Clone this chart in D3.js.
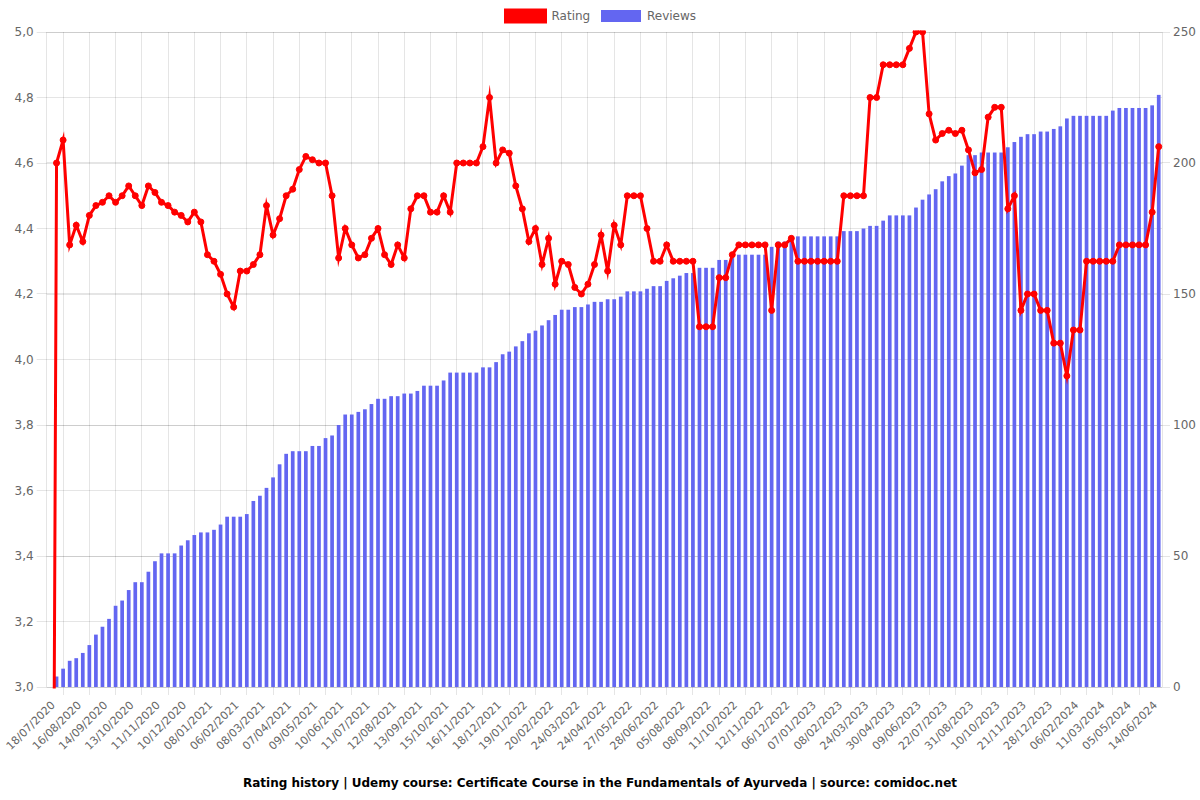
<!DOCTYPE html>
<html><head><meta charset="utf-8">
<script src="https://cdn.jsdelivr.net/npm/d3@7"></script>
<style>body{margin:0;background:#fff}svg{display:block}text{font-family:"DejaVu Sans",sans-serif}</style>
</head><body>
<svg id="chart" width="1200" height="800"></svg>
<script>
const tickLabels = ["18/07/2020","16/08/2020","14/09/2020","13/10/2020","11/11/2020","10/12/2020","08/01/2021","06/02/2021","08/03/2021","07/04/2021","09/05/2021","10/06/2021","11/07/2021","12/08/2021","13/09/2021","15/10/2021","16/11/2021","18/12/2021","19/01/2022","20/02/2022","24/03/2022","24/04/2022","27/05/2022","28/06/2022","05/08/2022","08/09/2022","11/10/2022","12/11/2022","06/12/2022","07/01/2023","08/02/2023","24/03/2023","30/04/2023","09/06/2023","22/07/2023","31/08/2023","10/10/2023","21/11/2023","28/12/2023","06/02/2024","11/03/2024","05/05/2024","14/06/2024"];
const labelEvery = 4;
const ratings = [0,4.6,4.67,4.35,4.41,4.36,4.44,4.47,4.48,4.5,
4.48,4.5,4.53,4.5,4.47,4.53,4.51,4.48,4.47,4.45,
4.44,4.42,4.45,4.42,4.32,4.3,4.26,4.2,4.16,4.27,
4.27,4.29,4.32,4.47,4.38,4.43,4.5,4.52,4.58,4.62,
4.61,4.6,4.6,4.5,4.31,4.4,4.35,4.31,4.32,4.37,
4.4,4.32,4.29,4.35,4.31,4.46,4.5,4.5,4.45,4.45,
4.5,4.45,4.6,4.6,4.6,4.6,4.65,4.8,4.6,4.64,
4.63,4.53,4.46,4.36,4.4,4.29,4.37,4.23,4.3,4.29,
4.22,4.2,4.23,4.29,4.38,4.27,4.41,4.35,4.5,4.5,
4.5,4.4,4.3,4.3,4.35,4.3,4.3,4.3,4.3,4.1,
4.1,4.1,4.25,4.25,4.32,4.35,4.35,4.35,4.35,4.35,
4.15,4.35,4.35,4.37,4.3,4.3,4.3,4.3,4.3,4.3,
4.3,4.5,4.5,4.5,4.5,4.8,4.8,4.9,4.9,4.9,
4.9,4.95,5.0,5.0,4.75,4.67,4.69,4.7,4.69,4.7,
4.64,4.57,4.58,4.74,4.77,4.77,4.46,4.5,4.15,4.2,
4.2,4.15,4.15,4.05,4.05,3.95,4.09,4.09,4.3,4.3,
4.3,4.3,4.3,4.35,4.35,4.35,4.35,4.35,4.45,4.65];
const reviews = [0,4,7,10,11,13,16,20,23,26,
31,33,37,40,40,44,48,51,51,51,
54,56,58,59,59,60,62,65,65,65,
66,71,73,76,80,85,89,90,90,90,
92,92,95,96,100,104,104,105,106,108,
110,110,111,111,112,112,113,115,115,115,
117,120,120,120,120,120,122,122,124,127,
128,130,132,135,136,138,140,142,144,144,
145,145,146,147,147,148,148,149,151,151,
151,152,153,153,155,156,157,158,158,160,
160,160,163,163,164,165,165,165,165,165,
168,170,170,172,172,172,172,172,172,172,
172,174,174,174,175,176,176,178,180,180,
180,180,183,186,188,190,193,195,196,199,
203,203,204,204,204,204,206,208,210,211,
211,212,212,213,214,217,218,218,218,218,
218,218,220,221,221,221,221,221,222,226];
const ratingTicks = [3.0,3.2,3.4,3.6,3.8,4.0,4.2,4.4,4.6,4.8,5.0];
const reviewTicks = [0,50,100,150,200,250];
const seriesNames = ["Rating","Reviews"];
const titleText = "Rating history | Udemy course: Certificate Course in the Fundamentals of Ayurveda | source: comidoc.net";

const RED = "#ff0000", BLUE = "rgb(99,102,241)", GRID = "rgba(0,0,0,0.1)", TXT = "#666";
const area = {left: 46.7, right: 1162, top: 32, bottom: 687};
const al = p => Math.round(p - 0.5) + 0.5;

const svg = d3.select("#chart");
const n = ratings.length;
const x = d3.scaleBand().domain(d3.range(n)).range([area.left, area.right]).padding(0);
const bw = x.bandwidth();
const cx = i => x(i) + bw / 2;
const yL = d3.scaleLinear().domain([3, 5]).range([area.bottom, area.top]);
const yR = d3.scaleLinear().domain([0, 250]).range([area.bottom, area.top]);

svg.append("g").selectAll("line").data(ratingTicks).join("line")
  .attr("x1", area.left - 10).attr("x2", area.right)
  .attr("y1", d => al(yL(d))).attr("y2", d => al(yL(d)))
  .attr("stroke", GRID);
svg.append("g").selectAll("line").data(reviewTicks).join("line")
  .attr("x1", area.left).attr("x2", area.right + 8)
  .attr("y1", d => al(yR(d))).attr("y2", d => al(yR(d)))
  .attr("stroke", GRID);

const shown = d3.range(0, n, labelEvery);
const vLines = shown.slice(1).map(i => cx(i) - (labelEvery / 2) * bw).filter(v => v > area.left && v < area.right);
svg.append("g").selectAll("line").data(vLines).join("line")
  .attr("x1", d => al(d)).attr("x2", d => al(d))
  .attr("y1", area.top).attr("y2", area.bottom + 8)
  .attr("stroke", GRID);
svg.append("g").selectAll("line").data([area.left, area.right]).join("line")
  .attr("x1", d => al(d)).attr("x2", d => al(d))
  .attr("y1", area.top).attr("y2", area.bottom)
  .attr("stroke", GRID);

const barW = 3.7;
svg.append("g").selectAll("rect").data(reviews).join("rect")
  .attr("x", (d, i) => cx(i) - barW / 2)
  .attr("y", d => yR(d))
  .attr("width", barW)
  .attr("height", d => area.bottom - yR(d))
  .attr("fill", BLUE);

svg.append("clipPath").attr("id", "clip").append("rect")
  .attr("x", area.left - 1.5).attr("y", area.top - 1.5)
  .attr("width", area.right - area.left + 3).attr("height", area.bottom - area.top + 3);
const lg = svg.append("g").attr("clip-path", "url(#clip)");
lg.append("path").datum(ratings)
  .attr("d", d3.line().x((d, i) => cx(i)).y(d => yL(d)))
  .attr("fill", "none").attr("stroke", RED).attr("stroke-width", 3)
  .attr("stroke-linejoin", "miter").attr("stroke-miterlimit", 10);
lg.selectAll("circle").data(ratings).join("circle")
  .attr("cx", (d, i) => cx(i)).attr("cy", d => yL(d)).attr("r", 3)
  .attr("fill", RED).attr("stroke", RED).attr("stroke-width", 1);

const fmt = d => d3.format(".1f")(d).replace(".", ",");
const axL = svg.append("g").attr("transform", `translate(${area.left - 10},0)`)
  .call(d3.axisLeft(yL).tickValues(ratingTicks).tickFormat(fmt).tickSize(0).tickPadding(3));
const axR = svg.append("g").attr("transform", `translate(${area.right + 8},0)`)
  .call(d3.axisRight(yR).tickValues(reviewTicks).tickSize(0).tickPadding(3));
const axB = svg.append("g").attr("transform", `translate(0,${area.bottom + 8})`)
  .call(d3.axisBottom(x).tickValues(shown).tickFormat(i => tickLabels[i / labelEvery]).tickSize(0).tickPadding(0));
[axL, axR].forEach(a => {
  a.attr("font-size", 12).attr("font-family", "DejaVu Sans");
  a.select(".domain").remove();
  a.selectAll("text").attr("fill", TXT).style("font-size", "12px").style("font-family", "DejaVu Sans");
});
axB.attr("font-size", 11).attr("font-family", "DejaVu Sans");
axB.select(".domain").remove();
axB.selectAll(".tick text")
  .attr("fill", TXT).style("font-size", "11px").style("font-family", "DejaVu Sans")
  .attr("text-anchor", "end").attr("dy", "0.35em").attr("y", 0)
  .attr("transform", "translate(3,8) rotate(-45)");

const legend = svg.append("g");
legend.append("rect").attr("x", 505.5).attr("y", 10).attr("width", 40).attr("height", 12)
  .attr("fill", RED).attr("stroke", RED).attr("stroke-width", 3);
legend.append("text").attr("x", 551.5).attr("y", 16).attr("dy", "0.35em").text(seriesNames[0])
  .attr("fill", TXT).style("font-size", "12px");
legend.append("rect").attr("x", 601).attr("y", 10).attr("width", 40).attr("height", 12)
  .attr("fill", BLUE);
legend.append("text").attr("x", 647).attr("y", 16).attr("dy", "0.35em").text(seriesNames[1])
  .attr("fill", TXT).style("font-size", "12px");

svg.append("text").attr("x", 600).attr("y", 783).attr("dy", "0.35em").attr("text-anchor", "middle")
  .style("font-size", "12px").style("font-weight", "bold").attr("fill", "#000").text(titleText);
</script>
</body></html>
